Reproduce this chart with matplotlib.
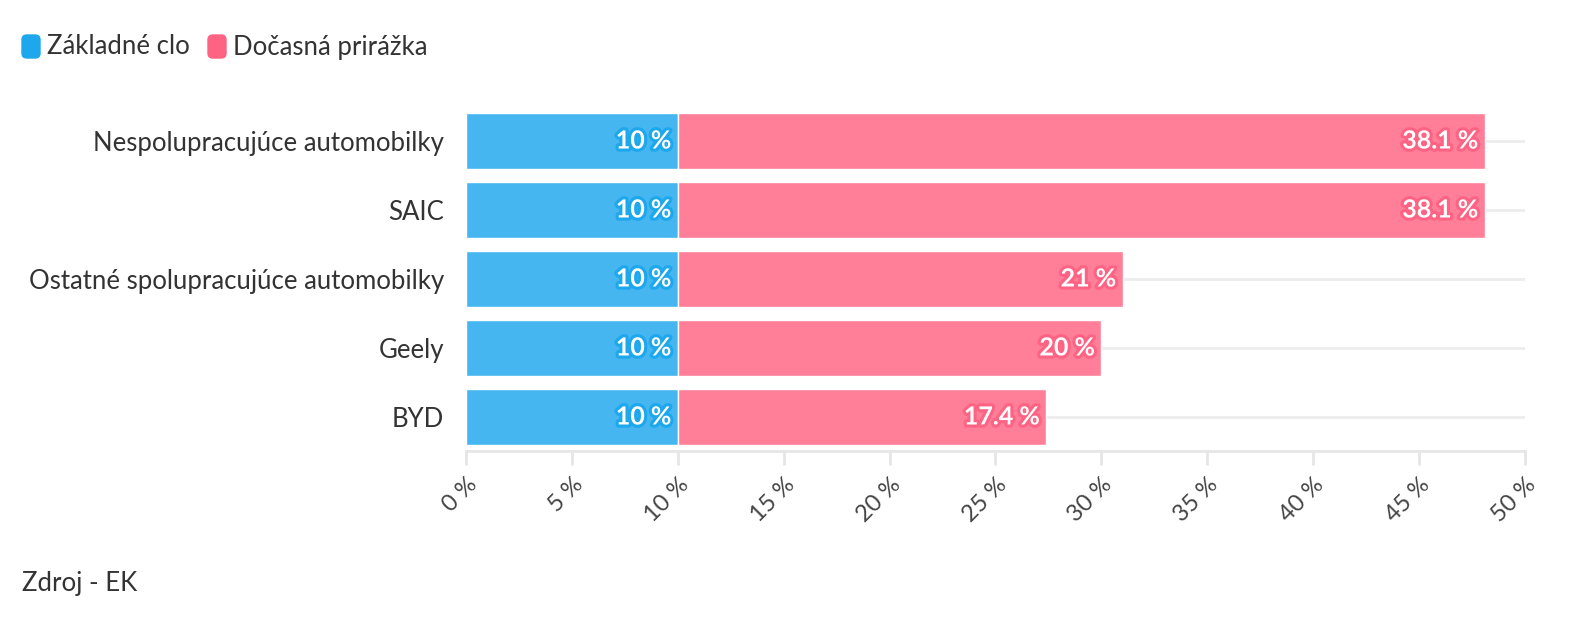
import matplotlib
matplotlib.use("Agg")
import matplotlib.pyplot as plt
import matplotlib.patheffects as pe
from matplotlib.patches import FancyBboxPatch
from matplotlib.ticker import FuncFormatter

plt.rcParams['font.family'] = ['Lato', 'DejaVu Sans']

categories = ["Nespolupracujúce automobilky", "SAIC",
              "Ostatné spolupracujúce automobilky", "Geely", "BYD"]
base_duty = [10, 10, 10, 10, 10]
surcharge = [38.1, 38.1, 21, 20, 17.4]
series_names = ["Základné clo", "Dočasná prirážka"]
x_ticks = [0, 5, 10, 15, 20, 25, 30, 35, 40, 45, 50]

blue_bar, blue_dark = "#45b6f0", "#1da7ec"
pink_bar, pink_dark = "#ff7f99", "#ff6384"

fig = plt.figure(figsize=(15.92, 6.31), dpi=100)
ax = fig.add_axes([0.2927, 0.2845, 0.6652, 0.5467])

y = list(range(len(categories)))
ax.barh(y, base_duty, height=0.81, color=blue_bar, edgecolor="white", linewidth=1, zorder=3)
ax.barh(y, surcharge, left=base_duty, height=0.81, color=pink_bar, edgecolor="white",
        linewidth=1, zorder=3)


def fmt(v):
    return f"{v:g} %"


for i in y:
    ax.text(base_duty[i] - 0.3, i, fmt(base_duty[i]), ha="right", va="center",
            fontsize=18, fontweight="bold", color="white", zorder=4,
            path_effects=[pe.withStroke(linewidth=4.5, foreground=blue_dark)])
    end = base_duty[i] + surcharge[i]
    ax.text(end - 0.3, i, fmt(surcharge[i]), ha="right", va="center",
            fontsize=18, fontweight="bold", color="white", zorder=4,
            path_effects=[pe.withStroke(linewidth=4.5, foreground=pink_dark)])

ax.set_xlim(0, 50)
ax.set_ylim(len(categories) - 0.5, -0.5)
ax.set_yticks(y)
ax.set_yticklabels(categories, fontsize=18.5, color="#333333")
ax.set_xticks(x_ticks)
ax.xaxis.set_major_formatter(FuncFormatter(lambda v, p: f"{v:g} %"))
for lbl in ax.get_xticklabels():
    lbl.set_rotation(45)
    lbl.set_ha("right")
    lbl.set_rotation_mode("anchor")
ax.tick_params(axis="x", length=10, width=2, color="#e6e6e6", labelsize=17,
               labelcolor="#444444", pad=6)
ax.tick_params(axis="y", length=0, pad=16)
ax.grid(axis="y", color="#ececec", linewidth=2, zorder=0)
for s in ["top", "right", "left"]:
    ax.spines[s].set_visible(False)
ax.spines["bottom"].set_color("#e6e6e6")
ax.spines["bottom"].set_linewidth(2)

# legend
for x0, name, col in [(22, series_names[0], blue_dark), (208, series_names[1], pink_dark)]:
    box = FancyBboxPatch((x0 / 1592, 1 - 58 / 631), 18 / 1592, 23 / 631,
                         boxstyle="round,pad=0,rounding_size=0.003",
                         transform=fig.transFigure, color=col, mutation_aspect=2.5)
    fig.patches.append(box)
    fig.text((x0 + 25) / 1592, 1 - 47 / 631, name, fontsize=18.5, color="#333333",
             va="center", ha="left")

fig.text(22 / 1592, 1 - 583 / 631, "Zdroj - EK", fontsize=18.5, color="#333333",
         va="center", ha="left")

fig.savefig("out.png", dpi=100, facecolor="white")
